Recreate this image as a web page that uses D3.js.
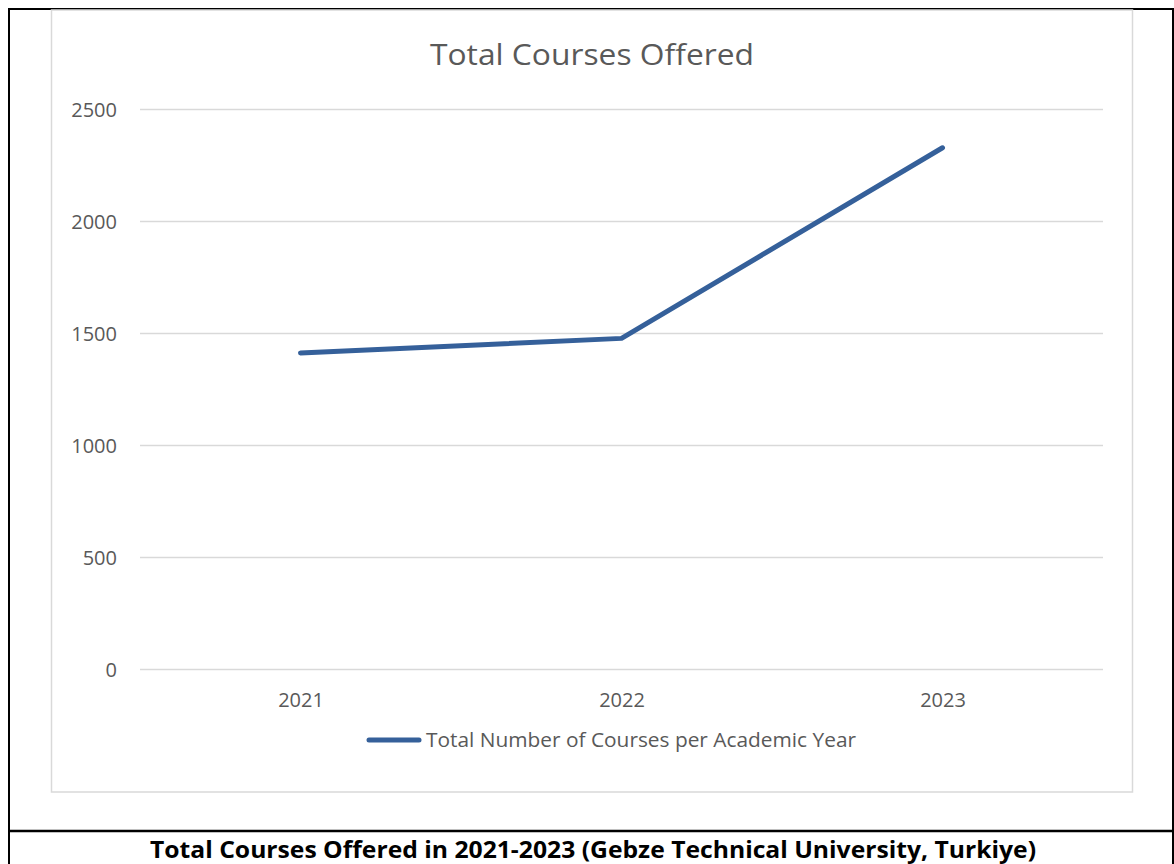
<!DOCTYPE html>
<html>
<head>
<meta charset="utf-8">
<script src="https://cdn.jsdelivr.net/npm/d3@7"></script>
<style>
  body { margin: 0; background: #fff; }
  text { font-family: "Open Sans", "Noto Sans", sans-serif; }
</style>
</head>
<body>
<svg id="chart" width="1174" height="864"></svg>
<script>
// data
const years = ['2021', '2022', '2023']
const courses = [1411, 1476, 2327]
const y_ticks = [0, 500, 1000, 1500, 2000, 2500]
const series_name = 'Total Number of Courses per Academic Year'
const chart_title = 'Total Courses Offered'
const caption = 'Total Courses Offered in 2021-2023 (Gebze Technical University, Turkiye)'

const svg = d3.select('#chart')
const line_color = '#35609a', text_color = '#595959', grid_color = '#d9d9d9'

/* outer table border + caption separator */
svg.append('path')
    .attr('d', 'M9,864 V9 H1173 V864')
    .attr('fill', 'none')
    .attr('stroke', '#000')
    .attr('stroke-width', 2)
svg.append('line')
    .attr('x1', 9).attr('x2', 1173)
    .attr('y1', 831).attr('y2', 831)
    .attr('stroke', '#000').attr('stroke-width', 2.5)

/* chart area frame */
svg.append('rect')
    .attr('x', 51.5).attr('y', 10)
    .attr('width', 1081).attr('height', 782)
    .attr('fill', '#fff')
    .attr('stroke', grid_color)
    .attr('stroke-width', 1.5)

/* plot area */
const plot_left = 140, plot_right = 1103, plot_top = 109, plot_bottom = 669

const x = d3.scalePoint().domain(years).range([plot_left, plot_right]).padding(0.5)
const y = d3.scaleLinear().domain([0, 2500]).range([plot_bottom, plot_top])

/* gridlines + y labels */
const yAxis = svg.append('g')
    .attr('transform', `translate(${plot_left},0)`)
    .call(d3.axisLeft(y).tickValues(y_ticks).tickFormat(d3.format('d'))
        .tickSize(-(plot_right - plot_left)).tickPadding(23))
yAxis.select('.domain').remove()
yAxis.selectAll('.tick line').attr('stroke', grid_color).attr('stroke-width', 1.3)
yAxis.selectAll('.tick text')
    .attr('fill', text_color)
    .style('font-size', '20px')
    .attr('dy', '0.35em')

/* x labels */
const xAxis = svg.append('g')
    .attr('transform', `translate(0,${plot_bottom})`)
    .call(d3.axisBottom(x).tickSize(0).tickPadding(24))
xAxis.select('.domain').remove()
xAxis.selectAll('.tick text')
    .attr('fill', text_color)
    .style('font-size', '20px')

/* the line */
const pts = years.map((d, i) => [d, courses[i]])
svg.append('path')
    .datum(pts)
    .attr('d', d3.line().x(d => x(d[0])).y(d => y(d[1])))
    .attr('fill', 'none')
    .attr('stroke', line_color)
    .attr('stroke-width', 5)
    .attr('stroke-linecap', 'round')
    .attr('stroke-linejoin', 'round')

/* title */
svg.append('text')
    .attr('x', 430).attr('y', 65)
    .attr('fill', text_color)
    .style('font-size', '30px')
    .attr('textLength', 324)
    .attr('lengthAdjust', 'spacingAndGlyphs')
    .text(chart_title)

/* legend */
svg.append('line')
    .attr('x1', 369).attr('x2', 419)
    .attr('y1', 740).attr('y2', 740)
    .attr('stroke', line_color)
    .attr('stroke-width', 5)
    .attr('stroke-linecap', 'round')
svg.append('text')
    .attr('x', 426).attr('y', 747)
    .attr('fill', text_color)
    .style('font-size', '19.5px')
    .attr('textLength', 430)
    .attr('lengthAdjust', 'spacingAndGlyphs')
    .text(series_name)

/* caption under the chart */
svg.append('text')
    .attr('x', 150).attr('y', 858)
    .attr('fill', '#000')
    .style('font-size', '23px')
    .style('font-weight', 'bold')
    .attr('textLength', 886)
    .attr('lengthAdjust', 'spacingAndGlyphs')
    .text(caption)
</script>
</body>
</html>
